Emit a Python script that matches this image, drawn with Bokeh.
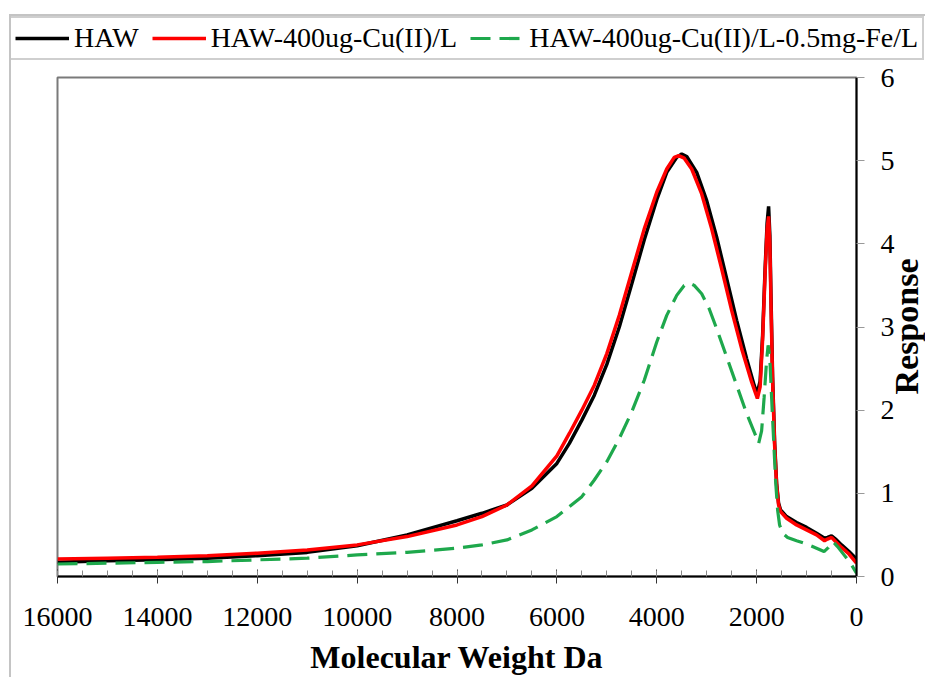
import math
from bokeh.plotting import figure
from bokeh.layouts import column, row
from bokeh.models import (Range1d, Legend, LegendItem, FixedTicker, Label, InlineStyleSheet)
from bokeh.embed import file_html
from bokeh.resources import INLINE

# ---- data ----
haw_mw = [16000, 15000, 14000, 13000, 12000, 11000, 10000, 9000, 8000, 7500, 7000, 6500,
          6000, 5750, 5500, 5250, 5000, 4750, 4500, 4250, 4000, 3800, 3600, 3500, 3400,
          3200, 3000, 2800, 2600, 2400, 2200, 2050, 1990, 1930, 1880, 1830, 1790, 1760,
          1735, 1710, 1680, 1640, 1600, 1560, 1520, 1400, 1200, 1000, 800, 640, 580,
          500, 420, 300, 150, 0]
haw_resp = [0.17, 0.19, 0.20, 0.22, 0.25, 0.29, 0.37, 0.50, 0.67, 0.76, 0.86, 1.06,
            1.36, 1.60, 1.88, 2.18, 2.55, 3.00, 3.52, 4.05, 4.53, 4.86, 5.04, 5.08, 5.05,
            4.86, 4.52, 4.08, 3.58, 3.08, 2.62, 2.30, 2.20, 2.35, 2.90, 3.70, 4.25, 4.45,
            4.10, 3.30, 2.40, 1.62, 1.12, 0.88, 0.80, 0.72, 0.65, 0.59, 0.52, 0.46, 0.47,
            0.49, 0.45, 0.38, 0.30, 0.21]

cu_mw = [16000, 15000, 14000, 13000, 12000, 11000, 10000, 9000, 8000, 7500, 7000, 6500,
         6000, 5750, 5500, 5250, 5000, 4750, 4500, 4250, 4000, 3800, 3650, 3560, 3450,
         3300, 3100, 2900, 2700, 2500, 2300, 2100, 2020, 1985, 1930, 1880, 1830, 1790,
         1760, 1735, 1710, 1680, 1640, 1600, 1560, 1520, 1400, 1200, 1000, 800, 640,
         580, 500, 420, 300, 150, 0]
cu_resp = [0.21, 0.22, 0.23, 0.25, 0.28, 0.32, 0.38, 0.48, 0.62, 0.72, 0.86, 1.09,
           1.45, 1.72, 2.00, 2.30, 2.68, 3.14, 3.66, 4.18, 4.62, 4.90, 5.04, 5.06, 5.03,
           4.90, 4.60, 4.18, 3.70, 3.20, 2.74, 2.34, 2.20, 2.14, 2.28, 2.85, 3.65, 4.18,
           4.33, 4.00, 3.20, 2.35, 1.58, 1.10, 0.86, 0.78, 0.70, 0.62, 0.56, 0.50, 0.43,
           0.45, 0.47, 0.42, 0.35, 0.27, 0.16]

fe_mw = [16000, 15000, 14000, 13000, 12000, 11000, 10000, 9000, 8000, 7500, 7000, 6500,
         6000, 5500, 5250, 5000, 4750, 4500, 4250, 4000, 3800, 3600, 3450, 3350, 3250,
         3100, 2950, 2800, 2600, 2400, 2200, 2050, 1960, 1900, 1850, 1800, 1770, 1750,
         1730, 1700, 1660, 1620, 1580, 1540, 1480, 1380, 1200, 1000, 800, 650, 560,
         470, 380, 250, 120, 0]
fe_resp = [0.15, 0.16, 0.17, 0.18, 0.20, 0.22, 0.26, 0.29, 0.34, 0.38, 0.44, 0.56,
           0.72, 0.96, 1.16, 1.38, 1.66, 1.98, 2.36, 2.82, 3.14, 3.38, 3.50, 3.53, 3.50,
           3.40, 3.22, 2.98, 2.64, 2.30, 1.96, 1.74, 1.60, 1.75, 2.15, 2.60, 2.78, 2.70,
           2.55, 2.15, 1.65, 1.15, 0.80, 0.62, 0.52, 0.47, 0.43, 0.39, 0.34, 0.30, 0.35,
           0.42, 0.36, 0.26, 0.16, 0.04]

x_ticks = [0, 2000, 4000, 6000, 8000, 10000, 12000, 14000, 16000]
y_ticks = [0, 1, 2, 3, 4, 5, 6]
series_names = ["HAW", "HAW-400ug-Cu(II)/L", "HAW-400ug-Cu(II)/L-0.5mg-Fe/L"]
x_title = "Molecular Weight Da"
y_title = "Response"

FONT = "Liberation Serif"
COLORS = ["black", "#ff0000", "#1ea84c"]
WIDTHS = [3.5, 3.5, 3.2]
DASHES = ["solid", "solid", "20 9"]
ALL_X = [haw_mw, cu_mw, fe_mw]
ALL_Y = [haw_resp, cu_resp, fe_resp]

# ---------------- main chart ----------------
p = figure(width=925, height=616, output_backend="svg", toolbar_location=None,
           x_range=Range1d(16000, 0), y_range=Range1d(0, 6),
           y_axis_location="right",
           min_border_left=57, min_border_top=16, min_border_right=69,
           min_border_bottom=98)

p.background_fill_color = "white"
p.border_fill_color = None
p.outline_line_color = "#7a7a7a"
p.outline_line_width = 2
p.xgrid.visible = False
p.ygrid.visible = False

for xs, ys, c, w, d in zip(ALL_X, ALL_Y, COLORS, WIDTHS, DASHES):
    p.line(xs, ys, line_color=c, line_width=w, line_dash=d)

xa = p.xaxis[0]
xa.ticker = FixedTicker(ticks=x_ticks, minor_ticks=list(range(0, 16001, 500)))
xa.axis_line_color = "black"
xa.axis_line_width = 2
xa.major_tick_in = 7
xa.major_tick_out = 7
xa.major_tick_line_color = "#333333"
xa.minor_tick_in = 6
xa.minor_tick_out = 0
xa.minor_tick_line_color = "#888888"
xa.major_label_text_font = FONT
xa.major_label_text_font_size = "28px"
xa.major_label_text_color = "black"
xa.major_label_standoff = 24
xa.axis_label = x_title
xa.axis_label_text_font = FONT
xa.axis_label_text_font_style = "bold"
xa.axis_label_text_font_size = "32px"
xa.axis_label_text_color = "black"
xa.axis_label_standoff = 10

ya = p.yaxis[0]
ya.ticker = FixedTicker(ticks=y_ticks, minor_ticks=[])
ya.axis_line_color = "black"
ya.axis_line_width = 2
ya.major_tick_in = 0
ya.major_tick_out = 8
ya.major_tick_line_color = "#999999"
ya.minor_tick_in = 0
ya.minor_tick_out = 0
ya.major_label_text_font = FONT
ya.major_label_text_font_size = "28px"
ya.major_label_text_color = "black"
ya.major_label_standoff = 16
ya.major_label_orientation = "horizontal"

# y title: rotated label reading bottom-to-top, held in a side panel so it is not clipped
resp = Label(x=906, y=265, x_units="canvas", y_units="canvas", text=y_title,
             angle=math.pi / 2, text_align="center", text_baseline="middle",
             text_font=FONT, text_font_style="bold", text_font_size="34px",
             text_color="black")
p.add_layout(resp, "left")

# ---------------- legend strip above the chart ----------------
lg = figure(width=925, height=61, output_backend="svg", toolbar_location=None,
            x_range=Range1d(0, 1), y_range=Range1d(-2, -1),
            x_axis_type=None, y_axis_type=None,
            min_border_left=0, min_border_right=0, min_border_top=0, min_border_bottom=0)
lg.outline_line_color = None
lg.border_fill_color = None
lg.background_fill_color = None
lg.xgrid.visible = False
lg.ygrid.visible = False

items = []
for name, xs, ys, c, w, d in zip(series_names, ALL_X, ALL_Y, COLORS, WIDTHS, DASHES):
    r = lg.line(xs, ys, line_color=c, line_width=w, line_dash=d)  # out of view; legend swatch only
    items.append(LegendItem(label=name, renderers=[r]))

legend = Legend(items=items, orientation="horizontal", location=(9, 1))
legend.label_text_font = FONT
legend.label_text_font_size = "28px"
legend.label_text_color = "black"
legend.glyph_width = 54
legend.glyph_height = 24
legend.label_standoff = 5
legend.spacing = 13
legend.padding = 4
legend.margin = 0
legend.border_line_color = "#a0a0a0"
legend.border_line_width = 2
legend.background_fill_color = "white"
legend.background_fill_alpha = 1
lg.add_layout(legend)

page = column(row(lg), p, spacing=0)
page.stylesheets = [InlineStyleSheet(css=(
    ":host { position: relative; background: white; }"
    ":host::after { content: ''; position: absolute; left: 9px; top: 14px; right: 0;"
    " bottom: 0; border-left: 2px solid #c4c4c4; border-top: 2px solid #c4c4c4;"
    " pointer-events: none; }"))]

open("out.html", "w").write(file_html(page, INLINE))
